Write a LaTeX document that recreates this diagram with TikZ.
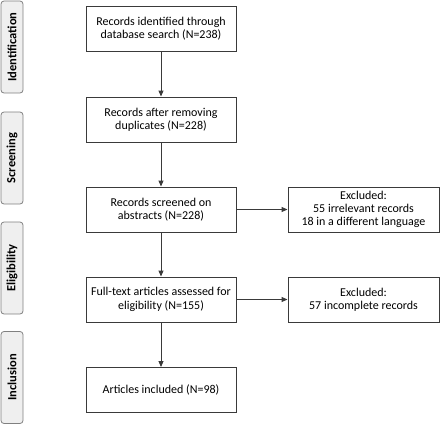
\documentclass[tikz,border=0pt]{standalone}
\usepackage{fontspec}
\setmainfont{Carlito}
\usetikzlibrary{arrows.meta}
\definecolor{boxline}{HTML}{3A3A3A}
\definecolor{stagefill}{HTML}{EFEFEF}
\definecolor{stageline}{HTML}{808080}
\begin{document}
\begin{tikzpicture}[x=1pt,y=-1pt,
  mainbox/.style={draw=boxline, line width=0.9pt, fill=white, minimum width=150pt, minimum height=45pt, align=center, font=\fontsize{12}{13.3}\selectfont, inner sep=2pt},
  sidebox/.style={mainbox, minimum width=151pt},
  stagebox/.style={draw=stageline, fill=stagefill, rounded corners=3pt, line width=0.8pt, minimum width=92pt, minimum height=22pt, rotate=90, font=\bfseries\fontsize{12.5}{14}\selectfont},
  arr/.style={draw=boxline, line width=0.9pt, -{Triangle[length=6pt,width=5pt]}}]
\useasboundingbox (0,0) rectangle (440,426);
\node[stagebox] (s1) at (12,47) {Identification};
\node[stagebox] (s2) at (12,158) {Screening};
\node[stagebox] (s3) at (12,268) {Eligibility};
\node[stagebox] (s4) at (12,377.5) {Inclusion};
\node[mainbox] (b1) at (161,29) {Records identified through\\database search (N=238)};
\node[mainbox] (b2) at (161,119.5) {Records after removing\\duplicates (N=228)};
\node[mainbox] (b3) at (161,209.5) {Records screened on\\abstracts (N=228)};
\node[mainbox] (b4) at (161,299.5) {Full-text articles assessed for\\eligibility (N=155)};
\node[mainbox] (b5) at (161,390) {Articles included (N=98)};
\node[sidebox] (e1) at (363.5,209.5) {Excluded:\\55 irrelevant records\\18 in a different language};
\node[sidebox] (e2) at (363.5,300) {Excluded:\\57 incomplete records};
\draw[arr] (b1) -- (b2);
\draw[arr] (b2) -- (b3);
\draw[arr] (b3) -- (b4);
\draw[arr] (b4) -- (b5);
\draw[arr] (b3) -- (e1);
\draw[arr] (b4.east) -- (e2.west |- b4.east);
\end{tikzpicture}
\end{document}
